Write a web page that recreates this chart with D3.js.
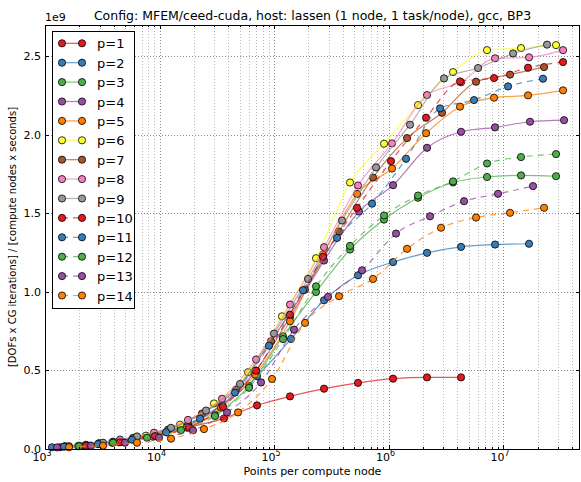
<!DOCTYPE html>
<html>
<head>
<meta charset="utf-8">
<script src="https://cdn.jsdelivr.net/npm/d3@7"></script>
<style>
  body { margin: 0; background: #fff; }
  svg { font-family: "DejaVu Sans", sans-serif; }
</style>
</head>
<body>
<svg width="581" height="482"></svg>
<script>
// points per compute node (x) and throughput in units of 1e9 (y), one pair per p
var p1x = [1352, 2472, 4705, 9321, 18470, 36590, 71070, 137900, 273400, 541600, 1.095e6, 2.169e6, 4.298e6];
var p1y = [0.011, 0.021, 0.047, 0.085, 0.140, 0.195, 0.278, 0.335, 0.384, 0.421, 0.448, 0.456, 0.456];
var p2x = [1151, 2280, 4519, 8954, 17740, 35150, 71070, 140700, 273400, 541600, 1.095e6, 2.169e6, 4.298e6, 8.514e6, 1.687e7];
var p2y = [0.011, 0.024, 0.053, 0.090, 0.160, 0.280, 0.463, 0.701, 0.947, 1.106, 1.190, 1.249, 1.287, 1.302, 1.307];
var p3x = [1982, 3926, 7778, 15410, 30520, 60500, 119800, 232700, 461100, 913500, 1.810e6, 3.659e6, 7.251e6, 1.436e7, 2.904e7];
var p3y = [0.021, 0.047, 0.079, 0.130, 0.219, 0.400, 0.718, 1.000, 1.270, 1.461, 1.600, 1.697, 1.732, 1.742, 1.737];
var p4x = [2280, 4519, 8954, 17740, 35150, 69660, 137900, 273400, 552600, 1.095e6, 2.169e6, 4.298e6, 8.514e6, 1.721e7, 3.412e7];
var p4y = [0.022, 0.045, 0.085, 0.150, 0.280, 0.500, 0.840, 1.200, 1.512, 1.680, 1.918, 2.020, 2.048, 2.084, 2.094];
var p5x = [2234, 4428, 8774, 17390, 34450, 68280, 137900, 267900, 530800, 1.073e6, 2.126e6, 4.212e6, 8.345e6, 1.653e7, 3.342e7];
var p5y = [0.021, 0.043, 0.078, 0.136, 0.263, 0.474, 0.813, 1.238, 1.624, 1.786, 2.011, 2.180, 2.237, 2.252, 2.284];
var p6x = [1942, 3847, 7623, 15100, 29920, 59300, 117500, 232700, 461100, 913500, 1.810e6, 3.659e6, 7.251e6, 1.436e7, 2.904e7];
var p6y = [0.018, 0.040, 0.085, 0.155, 0.290, 0.489, 0.845, 1.215, 1.697, 1.944, 2.190, 2.400, 2.540, 2.553, 2.572];
var p7x = [1495, 2962, 5870, 11870, 23510, 46560, 94150, 186600, 369600, 732200, 1.451e6, 2.933e6, 5.812e6, 1.151e7, 2.281e7];
var p7y = [0.018, 0.037, 0.071, 0.123, 0.226, 0.378, 0.687, 1.015, 1.385, 1.729, 1.980, 2.141, 2.339, 2.384, 2.432];
var p8x = [2280, 4519, 8954, 17740, 35150, 69660, 137900, 273400, 541600, 1.073e6, 2.169e6, 4.298e6, 8.514e6, 1.687e7, 3.342e7];
var p8y = [0.027, 0.060, 0.104, 0.185, 0.320, 0.570, 0.920, 1.285, 1.678, 1.946, 2.254, 2.335, 2.488, 2.494, 2.540];
var p9x = [1620, 3210, 6361, 12600, 25480, 50490, 100000, 198100, 392600, 778000, 1.541e6, 3.053e6, 6.050e6, 1.223e7, 2.423e7];
var p9y = [0.018, 0.040, 0.080, 0.135, 0.245, 0.414, 0.735, 1.083, 1.455, 1.793, 2.065, 2.360, 2.426, 2.519, 2.575];
var p10x = [2280, 4519, 9135, 18100, 35860, 69660, 137900, 267900, 530800, 1.051e6, 2.126e6, 4.212e6, 8.345e6, 1.653e7, 3.342e7];
var p10y = [0.021, 0.043, 0.082, 0.136, 0.268, 0.499, 0.856, 1.224, 1.536, 1.833, 2.110, 2.341, 2.362, 2.428, 2.464];
var p11x = [1466, 2904, 5753, 11400, 22580, 45630, 90450, 179200, 355000, 717700, 1.422e6, 2.818e6, 5.582e6, 1.106e7, 2.234e7];
var p11y = [0.015, 0.031, 0.059, 0.107, 0.193, 0.359, 0.658, 1.011, 1.344, 1.562, 1.848, 2.169, 2.222, 2.309, 2.358];
var p12x = [1982, 3926, 7778, 15410, 30520, 60500, 119800, 232700, 461100, 913500, 1.810e6, 3.659e6, 7.251e6, 1.436e7, 2.904e7];
var p12y = [0.018, 0.040, 0.072, 0.120, 0.210, 0.390, 0.700, 1.036, 1.293, 1.487, 1.614, 1.704, 1.818, 1.859, 1.878];
var p13x = [1273, 2522, 4995, 9900, 19620, 38870, 77010, 149500, 296200, 586900, 1.163e6, 2.304e6, 4.565e6, 9.044e6, 1.828e7];
var p13y = [0.010, 0.021, 0.040, 0.072, 0.119, 0.233, 0.424, 0.760, 0.969, 1.138, 1.372, 1.482, 1.578, 1.625, 1.674];
var p14x = [1620, 3210, 6361, 12600, 24470, 48490, 96050, 186600, 369600, 732200, 1.451e6, 2.874e6, 5.812e6, 1.151e7, 2.281e7];
var p14y = [0.011, 0.021, 0.040, 0.066, 0.127, 0.233, 0.446, 0.803, 0.973, 1.083, 1.275, 1.409, 1.474, 1.504, 1.536];

var labels = ["p=1", "p=2", "p=3", "p=4", "p=5", "p=6", "p=7", "p=8", "p=9", "p=10", "p=11", "p=12", "p=13", "p=14"];
var yTicks = [0, 0.5, 1.0, 1.5, 2.0, 2.5];
var xDecades = [1e3, 1e4, 1e5, 1e6, 1e7];

var xs = [p1x, p2x, p3x, p4x, p5x, p6x, p7x, p8x, p9x, p10x, p11x, p12x, p13x, p14x];
var ys = [p1y, p2y, p3y, p4y, p5y, p6y, p7y, p8y, p9y, p10y, p11y, p12y, p13y, p14y];

var palette = ["#e41a1c", "#377eb8", "#4daf4a", "#984ea3", "#ff7f00", "#ffff33", "#a65628", "#f781bf", "#999999"];

var series = labels.map(function(l, i) {
  return {
    label: l,
    color: palette[i % 9],
    dashed: i >= 9,
    pts: xs[i].map(function(x, j) { return {x: x, y: ys[i][j]}; })
  };
});

var svg = d3.select("svg"),
    mLeft = 45, mRight = 580, mTop = 25, mBottom = 449;

var x = d3.scaleLog().domain([1e3, 4.7e7]).range([mLeft, mRight]);
var y = d3.scaleLinear().domain([0, 2.7]).range([mBottom, mTop]);

// minor tick positions 2..9 x 10^k
var minor = [];
xDecades.forEach(function(d) {
  for (var k = 2; k <= 9; k++) { if (d * k < 4.7e7) minor.push(d * k); }
});

var grid = svg.append("g");
grid.selectAll(".gminor").data(minor).enter().append("line")
    .attr("x1", function(d) { return Math.round(x(d)) + 0.5; })
    .attr("x2", function(d) { return Math.round(x(d)) + 0.5; })
    .attr("y1", mTop).attr("y2", mBottom)
    .attr("stroke", "#b8b8b8").attr("stroke-dasharray", "1,2");
grid.selectAll(".gmajor").data(xDecades).enter().append("line")
    .attr("x1", function(d) { return Math.round(x(d)) + 0.5; })
    .attr("x2", function(d) { return Math.round(x(d)) + 0.5; })
    .attr("y1", mTop).attr("y2", mBottom)
    .attr("stroke", "#888").attr("stroke-dasharray", "1,2");
grid.selectAll(".gy").data(yTicks).enter().append("line")
    .attr("x1", mLeft).attr("x2", mRight)
    .attr("y1", function(d) { return Math.round(y(d)) + 0.5; })
    .attr("y2", function(d) { return Math.round(y(d)) + 0.5; })
    .attr("stroke", "#888").attr("stroke-dasharray", "1,2");

var line = d3.line()
    .x(function(d) { return x(d.x); })
    .y(function(d) { return y(d.y); })
    .curve(d3.curveMonotoneX);

var plot = svg.append("g");
series.forEach(function(s) {
  var g = plot.append("g");
  g.append("path")
      .attr("d", line(s.pts))
      .attr("fill", "none")
      .attr("stroke", s.color)
      .attr("stroke-opacity", 0.75)
      .attr("stroke-width", 1.2)
      .attr("stroke-dasharray", s.dashed ? "6,5" : null);
  g.selectAll("circle").data(s.pts).enter().append("circle")
      .attr("cx", function(d) { return x(d.x); })
      .attr("cy", function(d) { return y(d.y); })
      .attr("r", 3.6)
      .attr("fill", s.color)
      .attr("stroke", "#000")
      .attr("stroke-width", 0.8);
});

// frame and inward ticks on all four sides
svg.append("rect")
    .attr("x", mLeft + 0.5).attr("y", mTop + 0.5)
    .attr("width", mRight - mLeft - 1).attr("height", mBottom - mTop)
    .attr("fill", "none").attr("stroke", "#000").attr("stroke-width", 1);

var ticks = svg.append("g").attr("stroke", "#000");
xDecades.forEach(function(d) {
  var px = Math.round(x(d)) + 0.5;
  ticks.append("line").attr("x1", px).attr("x2", px).attr("y1", mBottom).attr("y2", mBottom - 4);
  ticks.append("line").attr("x1", px).attr("x2", px).attr("y1", mTop).attr("y2", mTop + 4);
});
minor.forEach(function(d) {
  var px = Math.round(x(d)) + 0.5;
  ticks.append("line").attr("x1", px).attr("x2", px).attr("y1", mBottom).attr("y2", mBottom - 2);
  ticks.append("line").attr("x1", px).attr("x2", px).attr("y1", mTop).attr("y2", mTop + 2);
});
yTicks.forEach(function(d) {
  var py = Math.round(y(d)) + 0.5;
  ticks.append("line").attr("x1", mLeft).attr("x2", mLeft + 4).attr("y1", py).attr("y2", py);
  ticks.append("line").attr("x1", mRight).attr("x2", mRight - 4).attr("y1", py).attr("y2", py);
});

// tick labels
svg.append("g").selectAll("text").data(yTicks).enter().append("text")
    .attr("x", mLeft - 4)
    .attr("y", function(d) { return y(d) + 4; })
    .attr("text-anchor", "end")
    .attr("font-size", 11)
    .text(function(d) { return d.toFixed(1); });

var xl = svg.append("g").selectAll("text").data(xDecades).enter().append("text")
    .attr("x", function(d) { return x(d) - 3; })
    .attr("y", mBottom + 12)
    .attr("text-anchor", "middle")
    .attr("font-size", 11);
xl.append("tspan").text("10");
xl.append("tspan").attr("dy", -5).attr("font-size", 8)
    .text(function(d) { return Math.round(Math.log10(d)); });

svg.append("text").attr("x", mLeft).attr("y", 21).attr("font-size", 11).text("1e9");

svg.append("text")
    .attr("x", (mLeft + mRight) / 2).attr("y", 20)
    .attr("text-anchor", "middle").attr("font-size", 12.5)
    .text("Config: MFEM/ceed-cuda, host: lassen (1 node, 1 task/node), gcc, BP3");

svg.append("text")
    .attr("x", (mLeft + mRight) / 2).attr("y", 475)
    .attr("text-anchor", "middle").attr("font-size", 11)
    .text("Points per compute node");

svg.append("text")
    .attr("transform", "translate(16," + ((mTop + mBottom) / 2) + ") rotate(-90)")
    .attr("text-anchor", "middle").attr("font-size", 10)
    .text("[DOFs x CG iterations] / [compute nodes x seconds]");

// legend
var legend = svg.append("g");
legend.append("rect")
    .attr("x", 52.5).attr("y", 31.5).attr("width", 82).attr("height", 277)
    .attr("fill", "#fff").attr("stroke", "#000");
series.forEach(function(s, i) {
  var ly = 43.3 + i * 19.4;
  legend.append("line")
      .attr("x1", 62).attr("x2", 82).attr("y1", ly).attr("y2", ly)
      .attr("stroke", s.color).attr("stroke-opacity", 0.75).attr("stroke-width", 1.2)
      .attr("stroke-dasharray", s.dashed ? "6,5" : null);
  [62, 82].forEach(function(cx) {
    legend.append("circle").attr("cx", cx).attr("cy", ly).attr("r", 3.6)
        .attr("fill", s.color).attr("stroke", "#000").attr("stroke-width", 0.8);
  });
  legend.append("text").attr("x", 97).attr("y", ly + 5).attr("font-size", 13).text(s.label);
});
</script>
</body>
</html>
